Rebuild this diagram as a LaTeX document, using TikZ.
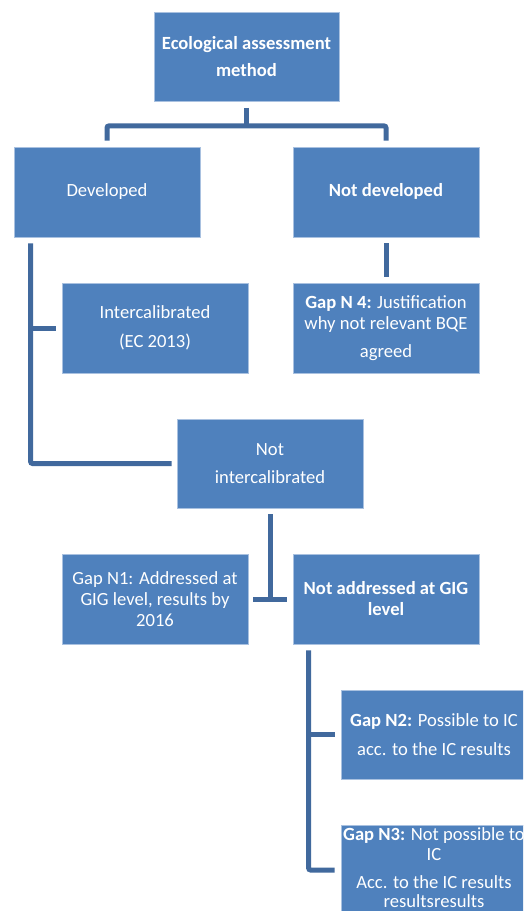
\documentclass[tikz,border=0pt]{standalone}
\usepackage{fontspec}
\setmainfont{Carlito}
\usetikzlibrary{calc}
\definecolor{boxblue}{HTML}{4F81BD}
\definecolor{lineblue}{HTML}{41699D}
\definecolor{edgeblue}{HTML}{A9C1E0}
\begin{document}
\begin{tikzpicture}[x=1pt,y=-1pt,
  box/.style={rectangle, fill=boxblue, draw=edgeblue, line width=0.8pt,
    minimum width=186pt, minimum height=90pt, inner sep=0pt, align=center,
    text=white, font=\fontsize{18.6}{21}\selectfont},
  boxtext/.style={inner sep=0pt, align=center, text=white, font=\fontsize{18.6}{21}\selectfont},
  conn/.style={draw=lineblue, line width=5pt, rounded corners=2pt}]
\clip (0,0) rectangle (523,911);
\fill[white] (0,0) rectangle (523,911);

\node[box, minimum width=185pt, minimum height=89pt] (top) at (246.5,57) {\textbf{Ecological assessment}\\[6pt]\textbf{method}};
\node[box] (dev) at (107,192) {\strut Developed};
\node[box] (notdev) at (386,192) {\strut\textbf{Not developed}};
\node[box] (inter) at (155,328) {Intercalibrated\\[8pt](EC 2013)};
\node[box] (gap4) at (386,328) {\textbf{Gap N 4:} Justification\\why not relevant BQE\\[7pt]agreed};
\node[box, minimum height=89pt] (notinter) at (270,463.5) {Not\\[7pt]intercalibrated};
\node[box] (gap1) at (155,599) {Gap N1: Addressed at\\GIG level, results by\\2016};
\node[box] (notaddr) at (386,599) {\textbf{Not addressed at GIG}\\\textbf{level}};
\node[box, minimum height=89pt] (gap2) at (434,734.5) {\textbf{Gap N2:} Possible to IC\\[8pt]acc. to the IC results};
\node[box] (gap3) at (434,870) {};
\node[boxtext] (gap3t) at ($(gap3.center)+(0,-2)$) {\textbf{Gap N3:} Not possible to\\[-1pt]IC\\[7pt]Acc. to the IC results\\[-2pt]resultsresults};

% top split
\coordinate (tj) at ($(top.south)+(0,24)$);
\draw[conn] ($(top.south)+(0,6)$) -- (tj);
\draw[conn] ($(dev.north)+(0,-6)$) |- (tj) -| ($(notdev.north)+(0,-6)$);

% developed branch
\coordinate (dv) at ($(dev.south west)+(17,6)$);
\draw[conn] (dv) |- ($(notinter.west)+(-5,0)$);
\draw[conn] (dv |- inter.west) -- ($(inter.west)+(-6,0)$);

% not developed -> gap 4
\draw[conn] ($(notdev.south)+(0,6)$) -- ($(gap4.north)+(0,-6)$);

% not intercalibrated split
\draw[conn, rounded corners=0pt] ($(notinter.south)+(0,6)$) -- (notinter.south |- gap1.east);
\draw[conn, rounded corners=0pt] ($(gap1.east)+(5,0)$) -- ($(notaddr.west)+(-6,0)$);

% not addressed branch
\coordinate (na) at ($(notaddr.south west)+(16,6)$);
\draw[conn] (na) |- ($(gap3.west)+(-6,0)$);
\draw[conn] (na |- gap2.west) -- ($(gap2.west)+(-6,0)$);
\end{tikzpicture}
\end{document}
